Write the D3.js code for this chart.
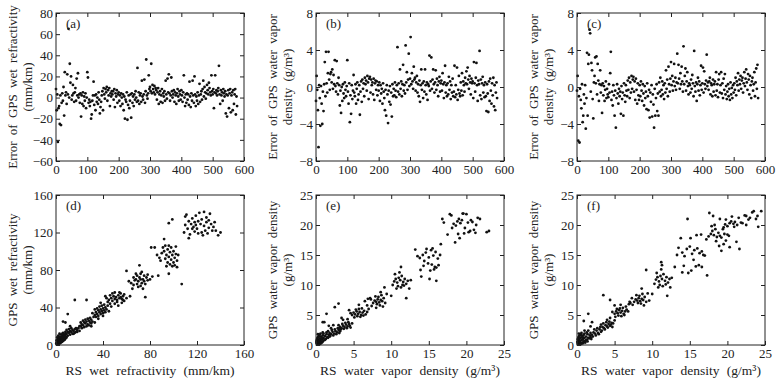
<!DOCTYPE html>
<html>
<head>
<meta charset="utf-8">
<script src="https://cdn.jsdelivr.net/npm/d3@7"></script>
<style>
  body { margin: 0; background: #fff; }
  svg { font-family: "Liberation Serif", "DejaVu Serif", serif; }
</style>
</head>
<body>
<svg id="chart" width="777" height="385"></svg>
<script>
// ---- data ----
// top row: error against sample number (one value every sampleStep samples)
const sampleStep = 2;

const errWetRefr = [
  8, -12, 3, -42, -10, -8, -25, 2, -26, -5,
  4, -3, 10, -17, 24, 2, 5, -6, 22, 3,
  65, 0, 32, 14, 20, -2, 2, 12, 4, -4,
  5, 9, -3, 18, 2, 23, 0, 3, -5, 4,
  -18, 2, -6, 5, -8, 1, -3, 4, -10, 0,
  24, 19, -5, -2, -8, -4, -20, -16, -3, 2,
  15, -7, 2, -12, 3, -4, 0, -6, 5, -2,
  -15, -9, -4, 2, 6, -12, 9, 3, -1, 8,
  5, 10, -3, 7, 2, 9, -8, 4, 1, 6,
  3, 6, -2, 8, -9, 4, 1, 7, -5, 3,
  5, -3, 2, -8, 4, 0, -6, 3, -12, 1,
  -20, -2, -4, 5, -21, -7, 2, -10, -3, 3,
  -19, 4, -5, 1, -8, 3, -2, 6, 0, -4,
  28, -3, 5, -6, 2, 4, -4, 16, 1, -2,
  3, 17, -5, 6, 36, 2, -1, 4, 21, 8,
  10, 6, 32, 4, 12, 8, 5, 11, 3, 9,
  7, -2, 5, 9, -6, 3, 6, -4, 2, 8,
  -5, 4, 1, 6, -3, 16, 3, -1, 18, 5,
  22, 4, -3, 2, 19, 6, 0, 3, 7, -4,
  5, 2, -6, 4, 8, 1, -3, 6, 3, -2,
  7, 2, -4, 5, 21, 0, -8, 3, -5, 4,
  -2, 3, -7, 15, 1, -9, 4, -3, 16, 2,
  -5, 20, 3, -8, 1, -3, 5, -6, 2, 13,
  -4, 3, 6, -2, 8, 16, 1, 10, 5, -1,
  4, 12, 7, 3, 14, 9, 5, 2, 21, 6,
  3, 8, -10, 5, 21, 4, 7, 2, 6, 9,
  30, 3, -6, 7, 2, 5, -3, 8, 4, 1,
  6, -15, 3, -18, 2, 7, -10, 4, 8, -14,
  2, 5, -12, 7, -6, 3, 8, -16, 1, -8
];

const errVaporB = [
  -1.5, 1.2, -0.3, -2.5, -6.5, 0.2, -1.2, -4.2, 0.1, -1.8,
  -4.0, -0.5, -2.6, 0.3, 2.7, -1.0, 3.8, 0.4, -0.6, 1.5,
  3.8, 0.8, -0.3, 1.4, 1.6, 0.5, 1.9, -0.2, 1.3, 0.3,
  2.9, 0.1, -0.5, 2.8, 0.4, -0.8, 1.0, 0.2, -2.0, -0.4,
  -2.8, 0.0, -1.5, 0.3, -0.7, -1.2, 0.5, -0.3, -1.0, 0.1,
  2.9, -0.5, -1.8, 0.4, -3.8, -0.9, -2.9, 0.2, -1.3, -0.4,
  1.3, -0.6, -1.0, 0.3, -1.8, -0.2, 0.5, -1.4, -0.8, 0.2,
  -3.0, -0.5, 0.6, -1.6, 0.8, -0.2, 0.4, -1.0, 1.0, 0.3,
  0.7, -0.4, 1.2, 0.5, -1.3, 0.9, 1.1, -0.6, 0.8, 0.2,
  0.5, -0.8, 0.9, -1.4, 0.4, 0.7, -0.3, 0.6, -0.9, 0.2,
  -0.4, 0.5, -1.5, 0.2, -0.7, -0.2, -1.8, 0.4, -0.5, -1.2,
  -2.5, -0.3, -3.1, 0.2, -0.8, -3.9, -0.4, -1.6, 0.1, -1.9,
  -0.6, -3.2, 0.3, -1.0, -0.2, -0.9, 0.5, -0.4, -1.1, 0.2,
  4.3, -0.5, 0.4, -0.8, 1.9, -0.2, 0.6, -1.0, 0.3, 2.4,
  -0.4, 0.2, -0.7, 4.5, 0.5, 1.6, -0.3, 0.8, 3.6, 0.1,
  0.9, 5.4, 0.3, 1.5, 0.6, -0.2, 2.2, 0.8, 1.0, -0.4,
  0.5, 1.2, -0.6, 0.3, -1.0, 0.7, -1.6, 0.2, 1.9, -0.3,
  0.4, -1.2, 0.6, -0.5, 1.9, 0.2, -0.8, 0.5, -1.4, 0.3,
  0.1, 3.4, -0.4, 0.6, 3.2, -0.2, 0.8, 1.9, 0.3, -0.6,
  0.5, 1.8, -0.3, 0.9, 0.2, -1.0, 0.6, 1.1, -0.5, 0.4,
  0.7, -0.4, 1.5, 0.3, -1.2, 0.5, 2.3, -0.6, 0.2, -1.0,
  0.4, -0.8, 1.1, -0.3, 0.6, -1.3, 0.2, -0.6, 0.9, -1.0,
  -0.5, 2.3, -1.1, 0.2, -0.8, 2.1, -1.4, -0.3, 1.2, -0.7,
  -1.0, 0.5, -0.4, 1.5, -0.9, 0.6, 0.2, -0.5, 1.0, 0.4,
  1.7, 0.3, 2.1, 0.8, -0.2, 1.2, 0.5, -0.8, 0.9, 0.4,
  0.6, -1.2, 2.7, 0.4, -0.5, 1.0, 2.6, 0.2, -1.5, 0.7,
  0.3, 3.9, -0.9, 0.8, -1.3, 0.4, 1.1, -0.6, 0.2, -1.1,
  0.5, -1.0, -2.6, 0.3, -0.7, -2.7, 0.6, -1.5, 0.9, -0.4,
  -1.8, 0.4, -0.9, 1.0, -2.1, 0.2, -2.5, -0.6, 0.5, -1.2
];

const errVaporC = [
  -0.4, 1.2, -5.8, -1.0, -6.0, -0.2, -1.4, -2.3, 0.3, -3.8,
  -3.1, -0.8, -1.8, 0.2, -4.5, -1.2, 3.7, -3.1, 2.5, 3.5,
  6.2, 5.8, -0.5, 2.6, 1.8, -1.3, -3.4, 0.5, 1.2, 3.2,
  0.4, 3.3, -0.8, 2.5, 0.7, -1.5, 0.3, 1.8, -0.6, 0.2,
  -2.8, 0.4, -0.9, 0.1, -1.5, -0.3, 0.6, -1.2, -0.2, -0.8,
  -1.1, 0.3, -0.6, 1.5, 3.8, -1.4, -0.5, -2.0, 0.2, -0.9,
  -3.1, -0.4, -4.4, -1.2, 0.3, -0.7, -1.8, -0.2, -1.0, -0.5,
  -2.9, 0.1, -1.3, -0.6, -3.1, 0.4, -0.9, -1.6, 0.2, -0.4,
  -1.0, 0.7, -0.3, 1.0, -1.2, 0.5, -0.6, 1.2, -0.2, 0.8,
  1.1, -0.5, 0.6, -1.4, 0.9, -0.3, -1.8, 0.4, -0.9, -1.4,
  0.2, -1.0, 0.6, -0.4, -1.5, 0.3, -0.7, -2.0, 0.1, -1.2,
  -0.5, -2.4, 0.4, -1.0, -2.5, -0.3, -3.3, -0.6, -1.6, 0.2,
  -3.2, -0.8, -1.9, -4.4, -0.2, -3.1, -1.2, 0.3, -2.6, -0.7,
  -3.1, 0.5, -0.5, 1.0, -1.0, -0.3, 0.6, -0.8, 0.2, -1.3,
  0.4, -0.6, 1.8, -0.2, 0.8, -1.0, 2.2, 0.3, -0.5, 0.9,
  2.7, 0.2, 1.2, -0.4, 0.6, 2.5, 0.1, 1.0, -0.3, 0.5,
  3.6, 0.4, 2.4, 0.9, -0.2, 1.5, 0.3, 2.2, 0.6, -0.5,
  4.4, 0.3, 1.2, 2.0, -0.4, 0.6, 1.6, 0.1, -0.8, 0.4,
  0.2, -0.6, 0.8, -0.2, 1.3, 0.4, -1.0, 3.9, 0.1, -0.5,
  0.5, -1.5, 0.3, 1.0, -0.4, 0.6, -0.9, 0.2, 2.3, -0.3,
  0.4, 2.1, -0.6, 1.7, 0.3, -0.2, 0.7, 3.5, 0.1, 0.5,
  -0.3, 0.6, 1.0, -0.8, 0.4, 0.2, -1.0, 0.8, -0.5, 0.3,
  0.6, -0.9, 1.6, -0.4, 0.3, -1.1, 0.8, 1.4, -0.6, 0.2,
  1.6, -0.7, 0.4, -1.2, 0.9, -0.3, 1.4, -0.8, 0.1, -1.3,
  -0.5, 0.3, -1.0, -0.2, -1.4, 0.5, -0.8, -0.1, -1.2, 0.2,
  -0.6, 0.4, -0.3, 1.0, -0.9, 0.6, 0.2, 1.5, -0.4, 0.8,
  0.3, 1.2, -0.2, 0.7, 1.0, -0.6, 0.4, 1.6, 0.1, 0.9,
  1.9, 0.5, -0.3, 1.4, 0.8, -0.8, 1.2, 0.2, -1.2, 0.6,
  1.0, -0.4, 0.3, 1.6, -1.0, 0.5, 2.0, -0.2, 2.4, -1.2
];

// bottom row: [RS, GPS] pairs
const wetRefrPairs = [
  [0.5,1],[1,2],[1.5,0.5],[2,3],[2.5,1.5],[3,4],[3.5,2],[4,5],[4.5,3],[5,6],[5.5,4],[6,7],[6.5,5],[7,8],[7.5,6],
  [1,4],[2,6],[3,7],[4,8],[5,9],[6,10],[7,11],[8,12],[1,0.5],[2,1],[3,2],[4,3],[5,3.5],[6,4.5],[7,5.5],[8,7],
  [0.8,3],[1.8,5],[2.8,5],[3.8,6],[4.8,7],[5.8,8],[6.8,9],[7.8,10],[0.3,2],[1.2,1],[2.2,2.5],[3.2,3],[4.2,4],
  [5.2,5],[6.2,6],[7.2,7],[8.2,9],[1.5,6],[2.5,8],[3.5,9],[4.5,11],[5.5,12],[0.5,5],[1,8],[2,10],[3,12],[6,13],[8,14],[9,8],
  [9,12],[10,14],[11,13],[12,15],[13,14],[14,16],[15,15],[16,17],[17,14],[18,16],[10,10],[12,11],[14,12],[16,13],
  [18,14],[19,18],[11,17],[13,18],[15,12],[17,18],[9,16],[20,15],[8,24],[10,33],[16,48],[6,25],[12,20],[20,20],
  [21,20],[22,22],[23,21],[24,24],[25,23],[26,25],[27,22],[28,26],[29,24],[30,27],[22,18],[24,19],[26,20],[28,21],
  [30,23],[23,26],[25,27],[27,28],[29,29],[31,25],[21,24],[26,48],[32,30],[33,24],[30,20],
  [33,32],[34,35],[35,33],[36,37],[37,35],[38,38],[39,36],[40,39],[41,37],[42,40],[34,30],[36,31],[38,33],[40,34],
  [42,35],[35,39],[37,41],[39,42],[41,43],[43,38],[36,28],[44,42],[38,45],[33,38],[40,31],[45,36],[31,34],
  [44,46],[45,48],[46,44],[47,50],[48,47],[49,52],[50,49],[51,51],[52,48],[53,53],[54,50],[55,55],[56,49],[57,52],
  [58,47],[46,53],[48,55],[50,44],[52,46],[54,56],[43,50],[56,45],[42,52],[58,54],[60,50],[53,42],[47,41],[50,56],[55,51],[57,48],
  [62,68],[64,66],[66,72],[68,70],[69,74],[70,68],[71,72],[72,76],[73,66],[74,70],[75,74],[76,65],[77,72],[78,69],
  [70,62],[72,63],[74,60],[68,76],[66,64],[76,51],[60,79],[63,52],[80,70],[71,85],[65,60],[73,78],[75,68],[78,75],[67,69],[69,65],[82,73],[72,70],
  [90,98],[92,100],[94,96],[95,102],[96,94],[97,99],[98,104],[99,96],[100,100],[101,93],[102,97],[103,90],[93,92],
  [95,88],[97,86],[99,84],[101,85],[103,83],[91,104],[93,106],[96,106],[98,91],[88,93],[86,96],[84,104],[81,104],
  [92,113],[96,130],[99,134],[107,65],[100,88],[104,96],[89,90],[94,84],[96,76],[102,105],[87,74],
  [110,128],[112,124],[113,132],[114,118],[115,129],[116,135],[117,126],[118,131],[119,138],[120,124],[121,119],
  [122,141],[123,129],[124,134],[125,117],[126,127],[127,122],[128,131],[129,119],[130,125],[131,140],[132,129],
  [133,122],[135,131],[138,117],[140,120],[110,137],[111,139],[109,120],[113,114],[119,128],[124,120],[126,142],
  [121,132],[128,136],[136,122],[134,126],[116,124],[118,121],[130,133]
];

const vaporPairsE = [
  [0.1,0.3],[0.2,0.6],[0.3,0.2],[0.3,0.9],[0.4,0.5],[0.5,1.1],[0.5,0.3],[0.6,0.8],[0.7,1.4],[0.7,0.5],[0.8,1.0],
  [0.9,0.6],[0.9,1.6],[1.0,1.2],[1.1,0.8],[1.2,1.5],[1.3,1.0],[1.4,1.8],[1.5,1.3],[0.2,1.2],[0.4,1.5],[0.6,1.9],
  [0.1,0.8],[0.3,1.4],[0.8,0.4],[1.0,1.9],[1.2,0.9],[0.5,1.7],[0.2,0.1],[0.4,0.1],[0.6,0.2],[0.15,1.0],[0.35,0.7],
  [0.75,1.2],[1.6,1.2],[1.7,1.7],[1.8,1.4],[0.05,0.5],[0.25,1.8],[0.9,2.1],
  [1.8,2.0],[2.0,1.8],[2.2,2.2],[2.4,1.9],[2.6,2.3],[2.8,2.1],[3.0,2.5],[3.2,2.3],[1.9,1.5],[2.1,2.5],[2.3,1.6],
  [2.5,2.6],[2.7,1.8],[2.9,2.8],[3.1,2.0],[1.6,2.3],[1.4,2.1],[2.0,2.8],[1.4,5.2],[0.9,3.8],[1.1,3.8],[2.5,6.3],[1.7,3.2],[2.3,3.3],
  [3.2,3.0],[3.4,2.8],[3.6,3.2],[3.8,3.0],[4.0,3.4],[4.2,3.1],[4.4,3.5],[3.3,2.6],[3.5,3.5],[3.7,2.7],[3.9,3.7],
  [4.1,2.8],[4.3,3.8],[4.5,3.2],[3.0,3.3],[4.6,2.9],[3.1,2.7],[4.8,3.6],[3.6,4.2],[3.0,6.9],[3.4,4.5],
  [4.8,5.0],[5.0,5.4],[5.2,5.1],[5.4,5.6],[5.6,5.2],[5.8,5.5],[6.0,5.0],[6.2,5.4],[6.4,5.7],[6.6,5.1],[5.1,4.6],
  [5.5,4.8],[5.9,4.7],[6.3,4.9],[5.3,5.9],[5.7,6.0],[6.1,6.1],[4.6,5.3],[6.8,5.5],[4.2,4.3],[7.0,6.0],[4.4,5.8],
  [6.5,7.3],[6.9,7.7],[7.2,7.8],[6.8,6.6],[5.7,6.7],
  [7.6,7.0],[7.8,7.4],[8.0,7.2],[8.2,7.6],[8.4,7.1],[8.6,7.5],[8.8,7.3],[9.0,7.8],[8.1,6.8],[8.5,6.6],[8.3,8.0],
  [8.7,8.3],[7.9,8.1],[9.2,7.0],[8.9,6.4],[7.4,6.5],[8.6,8.8],[9.4,8.5],[7.3,7.6],[10.0,8.2],[9.1,9.6],[8.0,6.2],
  [10.4,10.6],[10.6,11.0],[10.8,10.4],[11.0,11.2],[11.2,10.8],[11.4,11.5],[11.6,10.5],[11.8,11.0],[12.0,10.2],
  [12.2,10.7],[10.9,9.8],[11.3,9.6],[11.7,9.9],[12.4,9.4],[10.5,11.8],[11.1,12.1],[11.3,13.0],[12.0,7.8],[10.2,10.0],
  [12.6,10.8],[11.5,10.0],[10.7,9.4],
  [13.2,15.9],[13.8,14.5],[14.2,15.0],[14.6,15.4],[15.0,14.6],[15.3,15.8],[15.6,14.9],[15.9,15.5],[16.2,14.4],
  [16.5,15.0],[14.4,14.0],[14.9,13.6],[15.4,13.4],[15.8,13.0],[16.3,13.3],[14.0,11.4],[15.1,11.0],[15.7,12.6],
  [16.6,16.8],[13.5,14.8],[14.7,16.0],[15.5,16.1],[16.0,12.9],[16.0,10.7],[15.2,12.4],[14.3,13.2],[13.9,12.5],
  [17.5,18.4],[17.8,21.8],[18.0,21.6],[18.3,20.2],[18.6,19.9],[18.8,20.6],[19.0,21.0],[19.2,20.3],[19.4,20.8],
  [19.6,21.9],[19.8,19.5],[20.0,21.8],[20.2,20.4],[20.5,19.0],[20.8,20.5],[21.0,19.2],[21.3,20.0],[21.5,21.2],
  [21.8,21.0],[18.5,17.1],[19.1,17.8],[18.9,18.5],[19.7,18.6],[20.3,18.8],[21.2,18.7],[22.7,18.8],[23.0,19.0],
  [16.8,21.0],[17.0,20.4],[19.5,21.9],[20.6,20.8],[18.1,19.5]
];

const vaporPairsF = [
  [0.1,0.2],[0.2,0.6],[0.3,0.3],[0.3,1.0],[0.4,0.5],[0.5,1.2],[0.5,0.2],[0.6,0.8],[0.7,1.5],[0.7,0.4],[0.8,1.0],
  [0.9,0.6],[0.9,1.7],[1.0,1.2],[1.1,0.7],[1.2,1.4],[1.3,0.9],[1.4,1.8],[1.5,1.2],[0.2,1.3],[0.4,1.6],[0.6,2.0],
  [0.1,0.9],[0.3,1.5],[0.8,0.3],[1.0,1.9],[1.2,0.8],[0.5,1.8],[0.2,0.1],[0.4,0.1],[0.6,0.2],[0.15,1.1],[0.35,0.7],
  [0.75,1.3],[1.6,1.1],[1.7,1.6],[1.8,1.3],[0.05,0.5],[0.25,1.9],[1.9,1.0],[1.1,0.4],[1.4,0.6],
  [1.8,2.0],[2.0,1.7],[2.2,2.1],[2.4,1.9],[2.6,2.4],[2.8,2.0],[3.0,2.6],[3.2,2.2],[2.1,1.4],[2.3,2.6],[2.5,1.6],
  [2.7,2.8],[2.9,1.8],[3.1,3.0],[3.3,2.4],[1.5,2.4],[1.3,2.1],[1.5,5.2],[0.9,4.0],[2.0,3.8],[1.0,2.4],[3.5,8.3],[1.8,3.1],
  [3.4,3.0],[3.6,2.8],[3.8,3.3],[4.0,3.1],[4.2,3.5],[4.4,3.2],[4.6,3.7],[3.5,3.6],[3.7,2.6],[3.9,3.8],[4.1,2.9],
  [4.3,3.9],[4.5,3.4],[4.7,3.0],[3.2,3.4],[4.8,3.6],[4.0,4.2],[4.4,7.5],[5.0,4.1],
  [5.0,5.2],[5.2,5.6],[5.4,5.3],[5.6,5.8],[5.8,5.4],[6.0,5.7],[6.2,5.2],[6.4,5.6],[6.6,5.9],[5.1,4.7],[5.5,4.9],
  [5.9,4.8],[6.3,5.0],[5.3,6.0],[5.7,6.1],[6.1,6.2],[4.7,5.5],[6.8,5.6],[4.4,4.5],[5.0,6.6],[6.5,6.4],[7.0,7.2],[6.9,6.8],[5.8,6.7],
  [7.6,7.2],[7.8,7.6],[8.0,7.4],[8.2,7.8],[8.4,7.3],[8.6,7.7],[8.8,7.5],[9.0,8.0],[8.1,7.0],[8.5,6.9],[8.3,8.2],
  [8.7,8.5],[7.9,8.3],[9.2,7.2],[8.9,6.6],[7.4,6.7],[8.6,9.4],[9.4,8.6],[7.3,7.8],[10.0,8.5],[9.6,7.4],[7.1,7.0],
  [10.5,10.9],[10.7,11.3],[10.9,10.6],[11.1,11.5],[11.3,11.0],[11.5,11.8],[11.7,10.7],[11.9,11.3],[12.1,10.4],
  [12.3,11.0],[11.0,10.0],[11.4,9.8],[11.8,10.1],[12.4,9.6],[10.6,12.0],[11.2,12.6],[11.3,13.3],[11.2,13.8],
  [12.0,8.2],[10.3,10.2],[12.6,11.2],[9.2,12.5],[10.8,9.6],
  [13.3,15.0],[13.5,16.2],[13.8,17.8],[14.0,15.4],[14.3,14.8],[14.6,16.0],[15.0,16.4],[15.3,15.2],[15.6,15.8],
  [16.0,16.1],[16.3,15.3],[16.6,15.6],[14.2,13.2],[14.8,12.0],[15.2,12.4],[15.8,13.1],[16.2,13.3],[16.6,13.0],
  [13.0,13.0],[14.0,12.1],[17.0,14.9],[14.7,21.0],[17.3,11.6],[15.5,14.2],[16.8,15.0],[15.9,18.3],[16.5,18.4],[15.1,17.8],
  [17.5,18.1],[17.8,18.5],[18.0,19.0],[18.2,18.3],[18.4,19.3],[18.6,18.0],[18.8,18.7],[19.0,18.2],[19.2,17.9],
  [17.6,22.0],[18.1,21.5],[18.5,17.3],[19.5,16.8],[19.2,15.7],[20.0,18.4],[20.3,16.3],[19.8,17.4],[19.6,18.5],
  [17.2,17.6],[18.9,16.5],[20.2,18.2],[19.4,19.3],[17.9,19.8],[18.3,20.0],
  [19.0,21.0],[19.5,19.6],[19.8,20.9],[20.0,19.8],[20.3,20.3],[20.5,20.6],[20.8,20.2],[21.0,20.5],[21.3,20.0],
  [21.5,21.2],[21.8,20.4],[22.0,20.3],[22.3,21.6],[22.5,21.5],[22.8,20.9],[23.0,21.2],[23.3,22.1],[23.5,22.3],
  [24.0,21.5],[24.5,22.3],[22.5,20.0],[21.6,16.0],[24.1,19.7],[20.6,21.4],[21.2,17.2],[19.7,20.1],[20.9,19.7],[23.8,21.0]
];

// tick values
const sampleTicks = [0, 100, 200, 300, 400, 500, 600];
const errRefrTicks = [-60, -40, -20, 0, 20, 40, 60, 80];
const errVaporTicks = [-8, -4, 0, 4, 8];
const refrTicks = [0, 40, 80, 120, 160];
const vaporTicks = [0, 5, 10, 15, 20, 25];

// ---- layout ----
const colLeft = [56, 316, 577];
const plotW = 188;
const rowTop = [13, 195];
const rowBottom = [161, 345];

const toSeries = (vals) => vals.map((v, i) => [i * sampleStep, v]);

const panels = [
  { tag: "(a)", col: 0, row: 0, xDom: [0, 600], xTicks: sampleTicks, yDom: [-60, 80], yTicks: errRefrTicks,
    yLab: ["Error of GPS wet refractivity", "(mm/km)"], pts: toSeries(errWetRefr) },
  { tag: "(b)", col: 1, row: 0, xDom: [0, 600], xTicks: sampleTicks, yDom: [-8, 8], yTicks: errVaporTicks,
    yLab: ["Error of GPS water vapor", "density (g/m³)"], pts: toSeries(errVaporB) },
  { tag: "(c)", col: 2, row: 0, xDom: [0, 600], xTicks: sampleTicks, yDom: [-8, 8], yTicks: errVaporTicks,
    yLab: ["Error of GPS water vapor", "density (g/m³)"], pts: toSeries(errVaporC) },
  { tag: "(d)", col: 0, row: 1, xDom: [0, 160], xTicks: refrTicks, yDom: [0, 160], yTicks: refrTicks,
    yLab: ["GPS wet refractivity", "(mm/km)"], xLab: "RS wet refractivity (mm/km)", pts: wetRefrPairs },
  { tag: "(e)", col: 1, row: 1, xDom: [0, 25], xTicks: vaporTicks, yDom: [0, 25], yTicks: vaporTicks,
    yLab: ["GPS water vapor density", "(g/m³)"], xLab: "RS water vapor density (g/m³)", pts: vaporPairsE },
  { tag: "(f)", col: 2, row: 1, xDom: [0, 25], xTicks: vaporTicks, yDom: [0, 25], yTicks: vaporTicks,
    yLab: ["GPS water vapor density", "(g/m³)"], xLab: "RS water vapor density (g/m³)", pts: vaporPairsF }
];

const svg = d3.select("#chart");
const fontFam = '"Liberation Serif", "DejaVu Serif", serif';
const ink = "#222";

panels.forEach((p) => {
  const left = colLeft[p.col];
  const right = left + plotW;
  const top = rowTop[p.row];
  const bottom = rowBottom[p.row];

  const x = d3.scaleLinear().domain(p.xDom).range([left, right]);
  const y = d3.scaleLinear().domain(p.yDom).range([bottom, top]);

  const g = svg.append("g");

  // points
  g.append("g")
    .selectAll("circle")
    .data(p.pts)
    .enter()
    .append("circle")
    .attr("cx", (d) => x(d[0]))
    .attr("cy", (d) => y(d[1]))
    .attr("r", 1.4)
    .attr("fill", "#111");

  // axes with inward ticks
  const styleAxis = (sel) => {
    sel.select(".domain").remove();
    sel.selectAll(".tick line").attr("stroke", ink);
    sel.selectAll("text")
      .attr("fill", ink)
      .style("font-family", fontFam)
      .style("font-size", "13px");
  };

  g.append("g")
    .attr("transform", `translate(0,${bottom})`)
    .call(d3.axisBottom(x).tickValues(p.xTicks).tickSize(-4).tickPadding(4))
    .call(styleAxis);
  g.append("g")
    .attr("transform", `translate(${left},0)`)
    .call(d3.axisLeft(y).tickValues(p.yTicks).tickSize(-4).tickPadding(3))
    .call(styleAxis);
  g.append("g")
    .attr("transform", `translate(0,${top})`)
    .call(d3.axisTop(x).tickValues(p.xTicks).tickSize(-4).tickFormat(""))
    .call(styleAxis);
  g.append("g")
    .attr("transform", `translate(${right},0)`)
    .call(d3.axisRight(y).tickValues(p.yTicks).tickSize(-4).tickFormat(""))
    .call(styleAxis);

  // frame
  g.append("rect")
    .attr("x", left)
    .attr("y", top)
    .attr("width", right - left)
    .attr("height", bottom - top)
    .attr("fill", "none")
    .attr("stroke", ink)
    .attr("stroke-width", 1);

  // panel tag
  g.append("text")
    .attr("x", left + 10)
    .attr("y", top + 15)
    .attr("font-size", 13)
    .attr("fill", ink)
    .text(p.tag);

  // y label, two lines
  const yMid = (top + bottom) / 2;
  p.yLab.forEach((line, i) => {
    g.append("text")
      .attr("transform", `translate(${left - 39 + i * 15},${yMid}) rotate(-90)`)
      .attr("text-anchor", "middle")
      .attr("font-size", 13)
      .attr("word-spacing", 3)
      .attr("fill", ink)
      .text(line);
  });

  // x label (bottom row only)
  if (p.xLab) {
    g.append("text")
      .attr("x", (left + right) / 2)
      .attr("y", 375)
      .attr("text-anchor", "middle")
      .attr("font-size", 13.5)
      .attr("word-spacing", 4)
      .attr("fill", ink)
      .text(p.xLab);
  }
});
</script>
</body>
</html>
